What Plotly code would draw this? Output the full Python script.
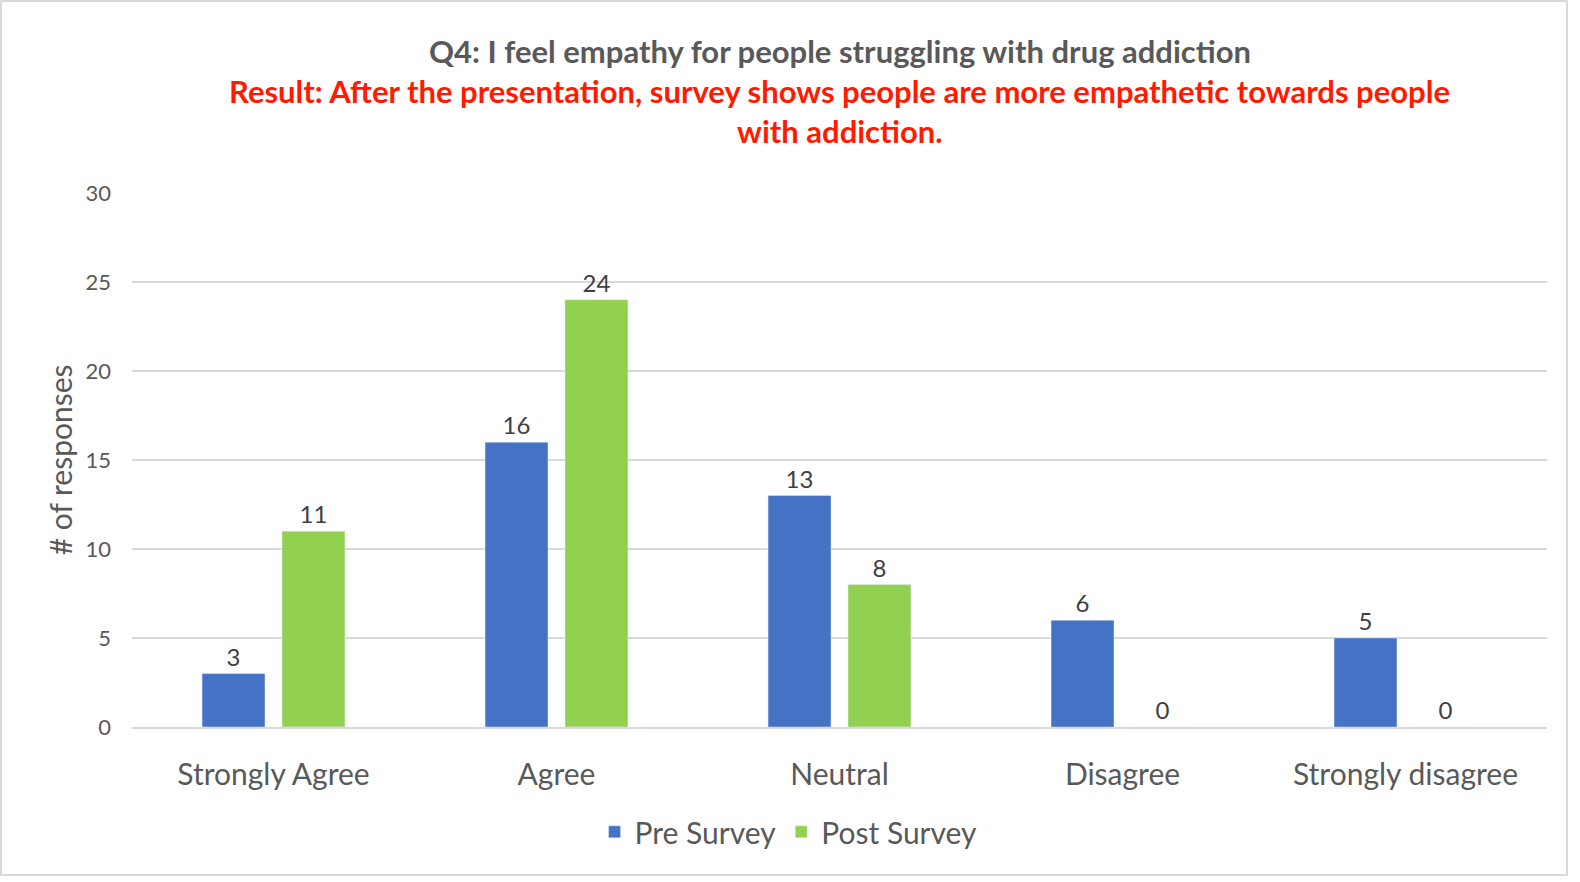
import plotly.graph_objects as go

categories = ["Strongly Agree", "Agree", "Neutral", "Disagree", "Strongly disagree"]
pre_survey = [3, 16, 13, 6, 5]
post_survey = [11, 24, 8, 0, 0]
y_ticks = [0, 5, 10, 15, 20, 25, 30]

title_line = "Q4: I feel empathy for people struggling with drug addiction"
result_lines = ["Result: After the presentation, survey shows people are more empathetic towards people",
                "with addiction."]

font_name = "Lato"

fig = go.Figure()
fig.add_trace(go.Bar(x=categories, y=pre_survey, name="Pre Survey",
                     marker_color="#4472C4",
                     text=pre_survey, textposition="outside", cliponaxis=False,
                     textfont=dict(size=24, color="#404040")))
fig.add_trace(go.Bar(x=categories, y=post_survey, name="Post Survey",
                     marker_color="#92D050",
                     text=post_survey, textposition="outside", cliponaxis=False,
                     textfont=dict(size=24, color="#404040")))

fig.update_layout(
    autosize=True,
    margin=dict(l=132, r=33, t=192, b=155),
    paper_bgcolor="white", plot_bgcolor="white",
    font=dict(family=font_name, color="#595959"),
    barmode="group", bargap=0.435, bargroupgap=0.2125,
    showlegend=True,
    legend=dict(orientation="h", x=0.464, xanchor="center", y=-0.196, yanchor="middle",
                font=dict(size=30, color="#595959"), itemwidth=30,
                traceorder="normal"),
)

fig.update_xaxes(showline=True, linecolor="#D9D9D9", linewidth=1.5,
                 tickfont=dict(size=30, color="#595959"),
                 ticks="", ticklabelstandoff=20)
fig.update_yaxes(range=[0, 30.05], tickvals=y_ticks, showgrid=True, gridcolor="#D9D9D9",
                 gridwidth=1.5, zeroline=False, showline=False,
                 tickfont=dict(size=22, color="#595959"), ticks="", ticklabelstandoff=20)

# y axis title
fig.add_annotation(text="# of responses", textangle=-90, xref="paper", yref="paper",
                   x=-0.051, y=0.5, xanchor="center", yanchor="middle", showarrow=False,
                   font=dict(size=30, color="#595959"))

# titles
fig.add_annotation(text="<b>" + title_line + "</b>", xref="paper", yref="paper",
                   x=0.5, y=1.2636, xanchor="center", yanchor="middle", showarrow=False,
                   font=dict(size=31, color="#595959"))
fig.add_annotation(text="<b>" + result_lines[0] + "</b>", xref="paper", yref="paper",
                   x=0.5, y=1.1888, xanchor="center", yanchor="middle", showarrow=False,
                   font=dict(size=31, color="#FF1A00"))
fig.add_annotation(text="<b>" + result_lines[1] + "</b>", xref="paper", yref="paper",
                   x=0.5, y=1.114, xanchor="center", yanchor="middle", showarrow=False,
                   font=dict(size=31, color="#FF1A00"))

# chart border
fig.add_shape(type="rect", xref="paper", yref="paper",
              x0=-0.0926, x1=1.0141, y0=-0.2766, y1=1.357,
              line=dict(color="#D9D9D9", width=2), layer="below")

# drop the page margin and scrollbars so the figure fills the window exactly
page_js = ("document.body.style.margin='0';"
           "document.body.style.overflow='hidden';"
           "document.documentElement.style.overflow='hidden';")
fig.write_html("out.html", config={"displayModeBar": False, "responsive": True},
               default_width="100vw", default_height="100vh", post_script=page_js)
